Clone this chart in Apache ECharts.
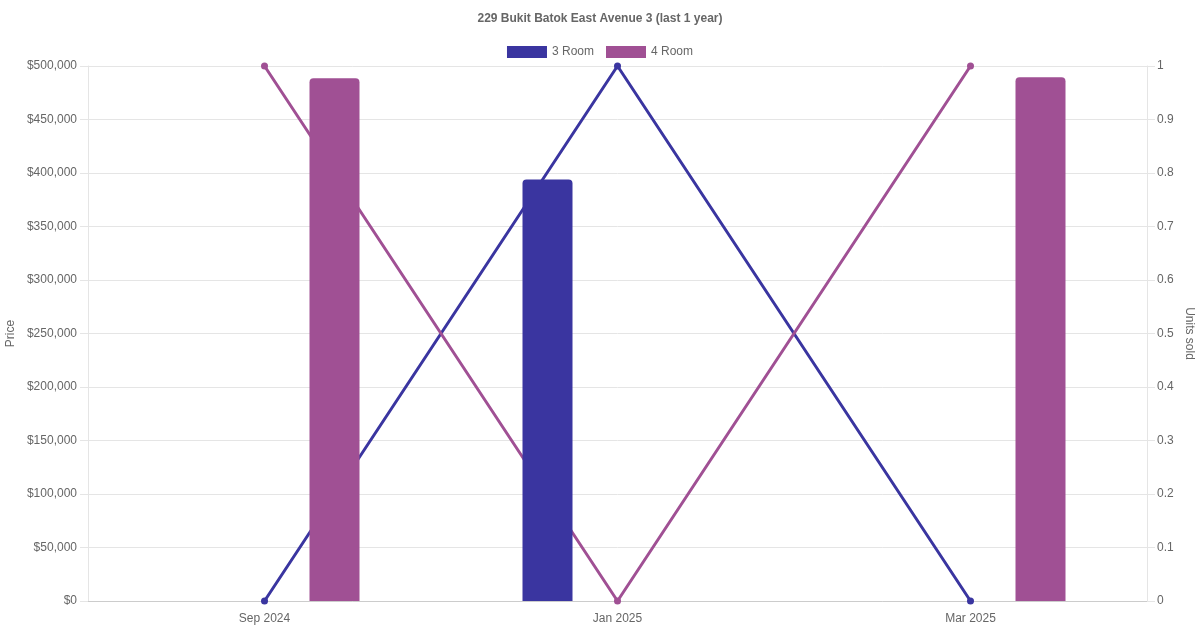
<!DOCTYPE html>
<html>
<head>
<meta charset="utf-8">
<script src="https://cdn.jsdelivr.net/npm/echarts@6/dist/echarts.min.js"></script>
<style>html,body{margin:0;padding:0;background:#fff;}#c{width:1200px;height:630px;}</style>
</head>
<body>
<div id="c"></div>
<script>
const categories = ['Sep 2024', 'Jan 2025', 'Mar 2025'];
const price3Room = [null, 394000, null];
const price4Room = [488500, null, 489500];
const units3Room = [0, 1, 0];
const units4Room = [1, 0, 1];
const seriesNames = ['3 Room', '4 Room'];
const colors = ['#3a35a0', '#a05094'];

const chart = echarts.init(document.getElementById('c'));
const font = 'Liberation Sans, Arial, Helvetica, sans-serif';
chart.setOption({
  animation: false,
  textStyle: { fontFamily: font },
  title: {
    text: '229 Bukit Batok East Avenue 3 (last 1 year)',
    left: 'center', top: 8,
    textStyle: { fontSize: 12, fontWeight: 'bold', color: '#666', fontFamily: font }
  },
  legend: {
    data: seriesNames, top: 41, left: 'center',
    icon: 'rect', itemWidth: 40, itemHeight: 12, itemGap: 12,
    textStyle: { fontSize: 12, color: '#666', fontFamily: font }
  },
  grid: { left: 88, right: 53, top: 66, bottom: 29, containLabel: false, outerBoundsMode: 'none' },
  xAxis: {
    type: 'category', data: categories, boundaryGap: true,
    axisLine: { lineStyle: { color: '#ccc' } },
    axisTick: { show: false },
    axisLabel: { color: '#666', fontSize: 12, margin: 12 },
    splitLine: { show: false }
  },
  yAxis: [{
    type: 'value', min: 0, max: 500000, interval: 50000, position: 'left',
    name: 'Price', nameLocation: 'middle', nameGap: 71, nameMoveOverlap: false,
    nameTextStyle: { color: '#666', fontSize: 12 },
    axisLine: { show: true, lineStyle: { color: '#e5e5e5' } },
    axisTick: { show: true, length: 8, lineStyle: { color: '#e5e5e5' } },
    axisLabel: { color: '#666', fontSize: 12, margin: 11,
      formatter: v => '$' + v.toLocaleString('en-US') },
    splitLine: { lineStyle: { color: '#e5e5e5' } }
  }, {
    type: 'value', min: 0, max: 1, interval: 0.1, position: 'right',
    name: 'Units sold', nameLocation: 'middle', nameGap: 36, nameRotate: -90, nameMoveOverlap: false,
    nameTextStyle: { color: '#666', fontSize: 12 },
    axisLine: { show: true, lineStyle: { color: '#e5e5e5' } },
    axisTick: { show: true, length: 8, lineStyle: { color: '#e5e5e5' } },
    axisLabel: { color: '#666', fontSize: 12, margin: 10,
      formatter: v => String(Math.round(v * 10) / 10) },
    splitLine: { show: false }
  }],
  series: [
    { name: seriesNames[0], type: 'bar', yAxisIndex: 0, data: price3Room,
      barWidth: 50, barGap: '180%', z: 3,
      itemStyle: { color: colors[0], borderRadius: [4, 4, 0, 0] } },
    { name: seriesNames[1], type: 'bar', yAxisIndex: 0, data: price4Room,
      barWidth: 50, barGap: '180%', z: 3,
      itemStyle: { color: colors[1], borderRadius: [4, 4, 0, 0] } },
    { name: seriesNames[0], type: 'line', yAxisIndex: 1, data: units3Room, z: 2,
      symbol: 'circle', symbolSize: 7, lineStyle: { width: 3, color: colors[0] },
      itemStyle: { color: colors[0] } },
    { name: seriesNames[1], type: 'line', yAxisIndex: 1, data: units4Room, z: 2,
      symbol: 'circle', symbolSize: 7, lineStyle: { width: 3, color: colors[1] },
      itemStyle: { color: colors[1] } }
  ]
});
</script>
</body>
</html>
